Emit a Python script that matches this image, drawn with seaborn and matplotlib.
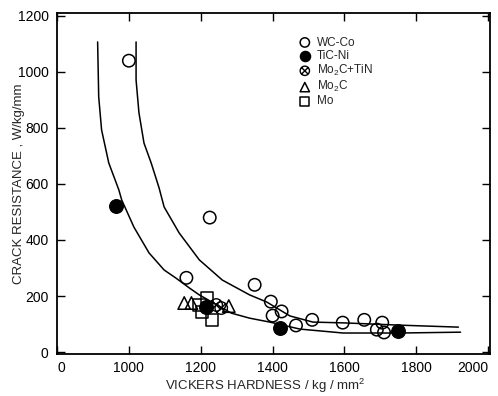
import numpy as np
import pandas as pd
import matplotlib
matplotlib.use("Agg")
import matplotlib.pyplot as plt
import matplotlib.path as mpath
import seaborn as sns

# ---- measured points (Vickers hardness kg/mm^2, crack resistance W/kg/mm) ----
wcco_hv = [1000, 1225, 1160, 1350, 1395, 1400, 1425, 1465, 1510, 1595, 1655, 1705, 1690, 1710]
wcco_w = [1040, 480, 265, 240, 180, 130, 145, 95, 115, 105, 115, 105, 80, 70]

ticni_hv = [965, 1215, 1420, 1750]
ticni_w = [520, 160, 85, 75]

mo2c_tin_hv = [1243, 1257]
mo2c_tin_w = [168, 157]

mo2c_hv = [1154, 1174, 1278]
mo2c_w = [175, 175, 164]

mo_hv = [1218, 1204, 1232, 1196]
mo_w = [193, 143, 114, 168]

# ---- hand-drawn trend curves ----
ticni_curve_hv = [913, 916, 924, 944, 972, 980, 1014, 1056, 1098, 1131, 1168, 1196,
                  1285, 1336, 1392, 1476, 1596, 1755, 1923]
ticni_curve_w = [1107, 911, 793, 675, 579, 543, 446, 354, 293, 264, 229, 204,
                 139, 121, 107, 82, 68, 68, 71]

wcco_curve_hv = [1020, 1020, 1028, 1042, 1062, 1084, 1098, 1140, 1196, 1260, 1336,
                 1383, 1448, 1512, 1601, 1755, 1917]
wcco_curve_w = [1107, 971, 854, 746, 675, 586, 518, 425, 329, 257, 204,
                179, 129, 107, 104, 96, 89]

x_ticks = [800, 1000, 1200, 1400, 1600, 1800, 2000]
x_ticklabels = ["0", "1000", "1200", "1400", "1600", "1800", "2000"]
y_ticks = [0, 200, 400, 600, 800, 1000, 1200]
y_ticklabels = ["0", "200", "400", "600", "800", "1000", "1200"]

sns.set_style("ticks")
plt.rcParams["font.family"] = ["Liberation Sans", "DejaVu Sans"]
plt.rcParams["mathtext.default"] = "regular"

fig = plt.figure(figsize=(4.98, 3.96), dpi=100)
ax = fig.add_axes([0.1145, 0.106, 0.8695, 0.861])

# circle with a cross inside
circ = mpath.Path.unit_circle()
d = 0.70
cross = mpath.Path([[-d, -d], [d, d], [-d, d], [d, -d]],
                   [mpath.Path.MOVETO, mpath.Path.LINETO, mpath.Path.MOVETO, mpath.Path.LINETO])
circle_x = mpath.Path.make_compound_path(circ, cross)

line_kw = dict(color="black", linewidth=1.1, sort=False, estimator=None)
sns.lineplot(x=ticni_curve_hv, y=ticni_curve_w, ax=ax, **line_kw)
sns.lineplot(x=wcco_curve_hv, y=wcco_curve_w, ax=ax, **line_kw)

sns.scatterplot(x=wcco_hv, y=wcco_w, ax=ax, marker="o", s=80, color="black",
                facecolor="none", edgecolor="black", linewidth=1.1, label="WC-Co", zorder=3)
sns.scatterplot(x=ticni_hv, y=ticni_w, ax=ax, marker="o", s=95, color="black",
                edgecolor="black", linewidth=1.0, label="TiC-Ni", zorder=4)
sns.scatterplot(x=mo2c_tin_hv, y=mo2c_tin_w, ax=ax, marker=circle_x, s=80, color="black",
                facecolor="none", edgecolor="black", linewidth=1.0,
                label="Mo$_2$C+TiN", zorder=3)
sns.scatterplot(x=mo2c_hv, y=mo2c_w, ax=ax, marker="^", s=80, color="black",
                facecolor="none", edgecolor="black", linewidth=1.1, label="Mo$_2$C", zorder=3)
sns.scatterplot(x=mo_hv, y=mo_w, ax=ax, marker="s", s=80, color="black",
                facecolor="none", edgecolor="black", linewidth=1.1, label="Mo", zorder=3)

ax.set_xlim(800, 2005)
ax.set_ylim(-7, 1210)
ax.set_xticks(x_ticks)
ax.set_xticklabels(x_ticklabels)
ax.set_yticks(y_ticks)
ax.set_yticklabels(y_ticklabels)
ax.tick_params(direction="in", length=6, width=1.0, top=True, right=True,
               labelsize=10, colors="black")
ax.tick_params(axis="x", pad=5)
ax.tick_params(axis="y", pad=6)
xlabels = ax.get_xticklabels()
xlabels[0].set_horizontalalignment("left")
xlabels[-1].set_horizontalalignment("right")
for sp in ax.spines.values():
    sp.set_linewidth(1.3)
    sp.set_color("black")

ax.set_xlabel("VICKERS HARDNESS / kg / mm$^2$", fontsize=9.5)
ax.xaxis.set_label_coords(0.48, -0.068)
ax.set_ylabel("CRACK RESISTANCE , W/kg/mm", fontsize=9.5)
ax.yaxis.set_label_coords(-0.075, 0.5)

ax.legend(loc="upper left", bbox_to_anchor=(0.545, 0.945), frameon=False,
          fontsize=8.5, labelspacing=0.1, handletextpad=0.4,
          borderaxespad=0, markerscale=0.75, handlelength=1.2)

fig.savefig("out.png", dpi=100, facecolor="white")
